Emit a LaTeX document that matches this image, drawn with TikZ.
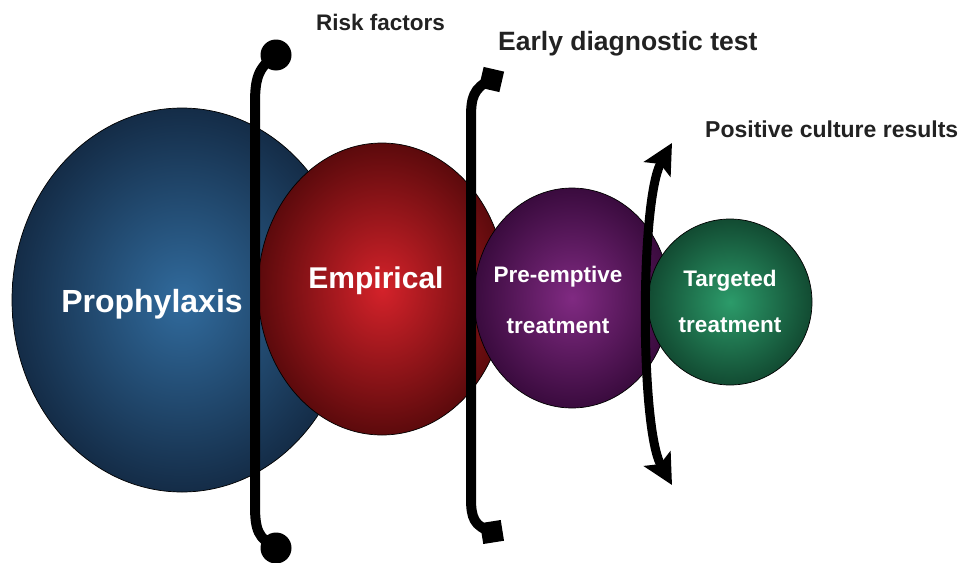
\documentclass[tikz,border=0pt]{standalone}
\usepackage{fontspec}
\setmainfont{Liberation Sans}
\usepackage{tikz}
\usetikzlibrary{arrows.meta}
\definecolor{blueInner}{RGB}{49,107,157}
\definecolor{blueOuter}{RGB}{20,44,71}
\definecolor{redInner}{RGB}{212,34,42}
\definecolor{redOuter}{RGB}{92,10,12}
\definecolor{purpleInner}{RGB}{128,42,130}
\definecolor{purpleOuter}{RGB}{58,11,62}
\definecolor{greenInner}{RGB}{44,155,106}
\definecolor{greenOuter}{RGB}{18,75,50}
\definecolor{labelColor}{RGB}{34,34,34}
\tikzstyle{pixels} = [x = 1pt, y = -1pt]
\tikzstyle{ballStyle} = [draw=black, line width=0.7pt]
\tikzstyle{ballText} = [text=white, font=\bfseries, inner sep=0pt]
\tikzstyle{labelText} = [text=labelColor, font=\bfseries, inner sep=0pt, anchor=base west]
\tikzstyle{bracketLine} = [black, line width=10pt]
\tikzstyle{dotEnd} = [circle, fill=black, minimum size=31pt, inner sep=0pt]
\tikzstyle{squareEnd} = [rectangle, fill=black, minimum size=21pt, inner sep=0pt]
\newcommand{\phaseBall}[6]{\shade[ballStyle, inner color=#5, outer color=#6] (#1, #2) ellipse [x radius=#3, y radius=#4];}
\newcommand{\sz}[1]{\fontsize{#1}{#1}\selectfont}

\begin{document}
\begin{tikzpicture}[pixels]
  \useasboundingbox [fill=white] (0,0) rectangle (963,562);
  % phases
  \phaseBall{182}{300}{170}{192}{blueInner}{blueOuter}
  \phaseBall{382}{289}{124}{146}{redInner}{redOuter}
  \phaseBall{572}{298}{98}{110}{purpleInner}{purpleOuter}
  \phaseBall{730}{302}{82}{83}{greenInner}{greenOuter}
  \node [ballText, anchor=base] (prophylaxis) at (152,312) {\sz{32}Prophylaxis};
  \node [ballText, anchor=base] (empirical) at (376,288) {\sz{30}Empirical};
  \node [ballText, anchor=base] (preEmptive) at (558,282) {\sz{22.5}Pre-emptive};
  \node [ballText, anchor=base] (preEmptiveTwo) at (558,333) {\sz{22.5}treatment};
  \node [ballText, anchor=base] (targeted) at (730,286) {\sz{22.5}Targeted};
  \node [ballText, anchor=base] (targetedTwo) at (730,332) {\sz{22.5}treatment};

  % risk factors
  \node [dotEnd] (riskTop) at (276,55) {};
  \node [dotEnd] (riskBottom) at (276,548) {};
  \draw [bracketLine] (riskTop.center) .. controls (257,68) and (255,80) .. (255,105)
    -- (255,505) .. controls (255,530) and (258,538) .. (riskBottom.center);
  \node [labelText] (riskLabel) at (316,30) {\sz{22.5}Risk factors};

  % early diagnostic test
  \node [squareEnd, rotate=-13] (earlyTop) at (491.5,79.5) {};
  \node [squareEnd, rotate=9] (earlyBottom) at (492,532) {};
  \draw [bracketLine] (earlyTop.center) .. controls (473,88) and (471,98) .. (471,118)
    -- (471,498) .. controls (471,518) and (474,526) .. (earlyBottom.center);
  \node [labelText] (earlyLabel) at (498,50) {\sz{26.5}Early diagnostic test};

  % positive culture results
  \coordinate (cultureTop) at (672,143);
  \coordinate (cultureBottom) at (672,485);
  \draw [line width=9pt, {Stealth[length=30pt, width=30pt, inset=6pt]}-{Stealth[length=30pt, width=30pt, inset=6pt]}]
    (cultureTop) .. controls (640,200) and (640,428) .. (cultureBottom);
  \node [labelText] (cultureLabel) at (705,137) {\sz{23}Positive culture results};
\end{tikzpicture}
\end{document}
